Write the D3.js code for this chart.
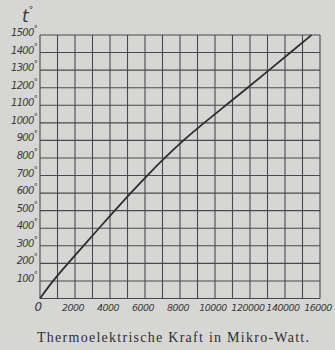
<!DOCTYPE html>
<html>
<head>
  <meta charset="utf-8">
  <title>Thermoelektrische Kraft</title>
  <script src="https://d3js.org/d3.v7.min.js"></script>
  <style>
    body {
      margin: 0;
      background: #d6d6d4;
    }
    .tick-label {
      font-family: 'DejaVu Sans', sans-serif;
      font-style: italic;
      fill: #3a3a3a;
    }
    .title {
      font-family: 'Liberation Serif', serif;
      fill: #2e2e2e;
    }
  </style>
</head>
<body>
  <div id="chart"></div>
  <script>
    // temperature (°) against thermo-electric force (micro units), read from the plate
    var temps = [0, 100, 200, 300, 400, 500, 600, 700, 800, 900, 1000, 1100, 1200, 1300, 1400, 1500];
    var force = [0, 750, 1600, 2480, 3370, 4270, 5180, 6130, 7130, 8200, 9380, 10620, 11860, 13090, 14310, 15520];

    var xTicks = [0, 2000, 4000, 6000, 8000, 10000, 12000, 14000, 16000];
    var xTickLabels = ["0", "2000", "4000", "6000", "8000", "10000", "120000", "140000", "16000"];
    var yTicks = [100, 200, 300, 400, 500, 600, 700, 800, 900, 1000, 1100, 1200, 1300, 1400, 1500];

    const width = 335, height = 350;
    const plotLeft = 40, plotRight = 320, plotTop = 35, plotBottom = 298.5;

    const svg = d3.select("#chart").append("svg")
      .attr("width", width)
      .attr("height", height);

    const x = d3.scaleLinear().domain([0, 16000]).range([plotLeft, plotRight]);
    const y = d3.scaleLinear().domain([0, 1500]).range([plotBottom, plotTop]);

    // the squared paper
    const grid = svg.append("g")
      .attr("stroke", "#4a4a4a")
      .attr("stroke-width", 1.1);

    grid.selectAll("line.v")
      .data(d3.range(0, 16001, 1000))
      .enter().append("line")
      .attr("class", "v")
      .attr("x1", (d) => x(d)).attr("x2", (d) => x(d))
      .attr("y1", y(0)).attr("y2", y(1500));

    grid.selectAll("line.h")
      .data(d3.range(0, 1501, 100))
      .enter().append("line")
      .attr("class", "h")
      .attr("y1", (d) => y(d)).attr("y2", (d) => y(d))
      .attr("x1", x(0)).attr("x2", x(16000));

    // curve
    const line = d3.line()
      .x((d, i) => x(force[i]))
      .y((d) => y(d))
      .curve(d3.curveNatural);

    svg.append("path")
      .datum(temps)
      .attr("d", line)
      .attr("fill", "none")
      .attr("stroke", "#2e2e2e")
      .attr("stroke-width", 1.8);

    // y labels, number plus a raised degree sign
    const ylab = svg.selectAll("text.ylab")
      .data(yTicks)
      .enter().append("text")
      .attr("class", "tick-label ylab")
      .attr("x", 37)
      .attr("y", (d) => y(d) + 1)
      .attr("text-anchor", "end")
      .style("font-size", "10px")
      .style("letter-spacing", "-0.7px");
    ylab.append("tspan").text((d) => d);
    ylab.append("tspan")
      .attr("dy", -4)
      .style("font-size", "8px")
      .text("°");

    // x labels
    svg.selectAll("text.xlab")
      .data(xTicks)
      .enter().append("text")
      .attr("class", "tick-label xlab")
      .attr("x", (d) => x(d) - 2)
      .attr("y", 311)
      .attr("text-anchor", "middle")
      .style("font-size", (d) => d === 0 ? "12px" : "9.5px")
      .style("letter-spacing", "-0.5px")
      .text((d, i) => xTickLabels[i]);

    // axis name t°
    const tName = svg.append("text")
      .attr("class", "tick-label")
      .attr("x", 22)
      .attr("y", 22)
      .style("font-size", "17px");
    tName.append("tspan").text("t");
    tName.append("tspan")
      .attr("dy", -9)
      .style("font-size", "9px")
      .text("°");

    svg.append("text")
      .attr("class", "title")
      .attr("x", 173)
      .attr("y", 342)
      .attr("text-anchor", "middle")
      .style("font-size", "14px")
      .attr("textLength", 272)
      .attr("lengthAdjust", "spacing")
      .text("Thermoelektrische Kraft in Mikro-Watt.");
  </script>
</body>
</html>
